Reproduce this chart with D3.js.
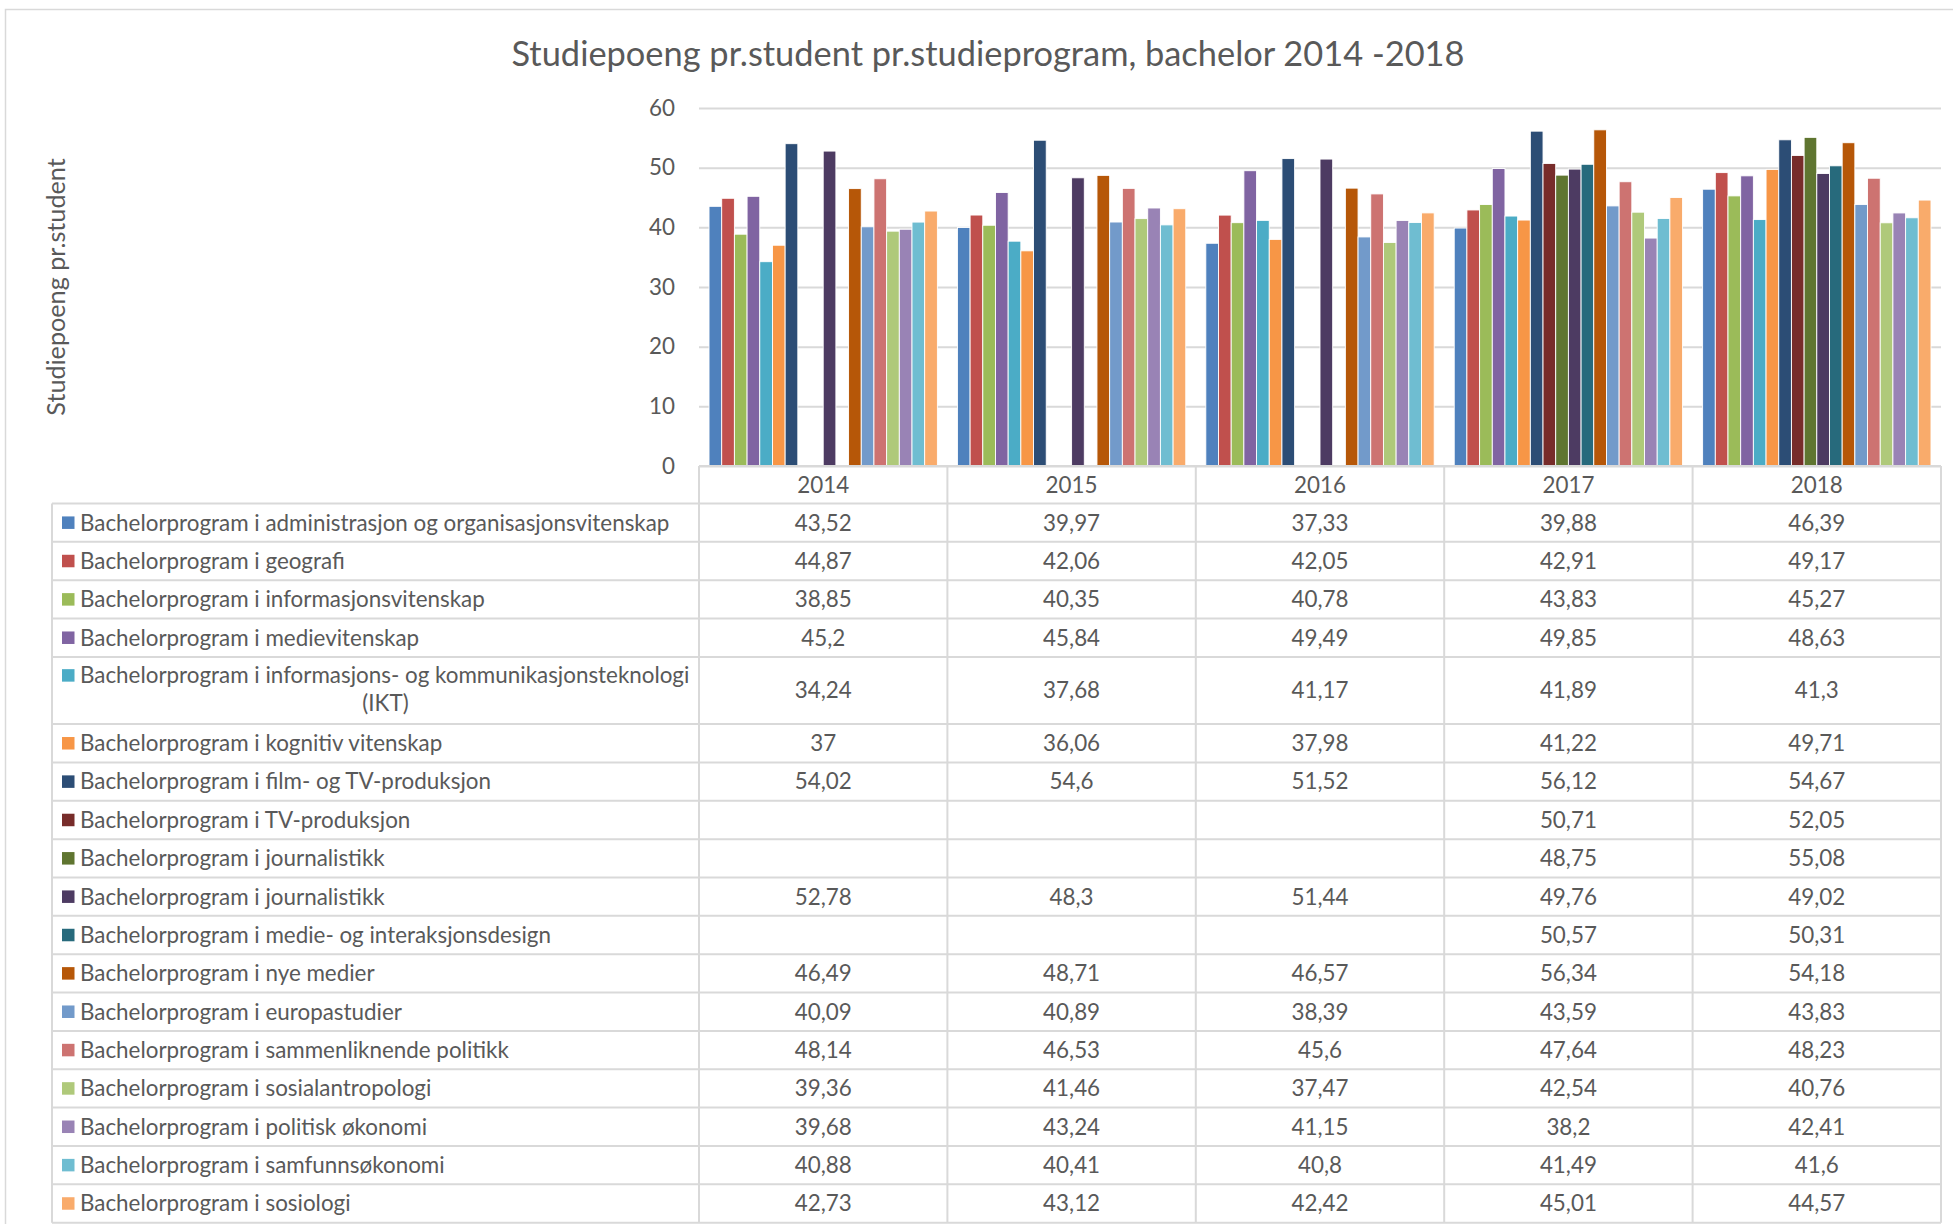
<!DOCTYPE html>
<html><head><meta charset="utf-8">
<script src="https://cdn.jsdelivr.net/npm/d3@7"></script>
<style>
html,body{margin:0;padding:0;background:#fff;overflow:hidden;}
text{font-family:Lato,"Open Sans",sans-serif;fill:#595959;}
</style></head>
<body><svg id="chart" width="1953" height="1224"></svg>
<script>
const years = ["2014","2015","2016","2017","2018"];
const seriesNames = [
 "Bachelorprogram i administrasjon og organisasjonsvitenskap",
 "Bachelorprogram i geografi",
 "Bachelorprogram i informasjonsvitenskap",
 "Bachelorprogram i medievitenskap",
 "Bachelorprogram i informasjons- og kommunikasjonsteknologi (IKT)",
 "Bachelorprogram i kognitiv vitenskap",
 "Bachelorprogram i film- og TV-produksjon",
 "Bachelorprogram i TV-produksjon",
 "Bachelorprogram i journalistikk",
 "Bachelorprogram i journalistikk",
 "Bachelorprogram i medie- og interaksjonsdesign",
 "Bachelorprogram i nye medier",
 "Bachelorprogram i europastudier",
 "Bachelorprogram i sammenliknende politikk",
 "Bachelorprogram i sosialantropologi",
 "Bachelorprogram i politisk økonomi",
 "Bachelorprogram i samfunnsøkonomi",
 "Bachelorprogram i sosiologi"
];
const seriesValues = [
 [43.52, 39.97, 37.33, 39.88, 46.39],
 [44.87, 42.06, 42.05, 42.91, 49.17],
 [38.85, 40.35, 40.78, 43.83, 45.27],
 [45.2, 45.84, 49.49, 49.85, 48.63],
 [34.24, 37.68, 41.17, 41.89, 41.3],
 [37, 36.06, 37.98, 41.22, 49.71],
 [54.02, 54.6, 51.52, 56.12, 54.67],
 [null, null, null, 50.71, 52.05],
 [null, null, null, 48.75, 55.08],
 [52.78, 48.3, 51.44, 49.76, 49.02],
 [null, null, null, 50.57, 50.31],
 [46.49, 48.71, 46.57, 56.34, 54.18],
 [40.09, 40.89, 38.39, 43.59, 43.83],
 [48.14, 46.53, 45.6, 47.64, 48.23],
 [39.36, 41.46, 37.47, 42.54, 40.76],
 [39.68, 43.24, 41.15, 38.2, 42.41],
 [40.88, 40.41, 40.8, 41.49, 41.6],
 [42.73, 43.12, 42.42, 45.01, 44.57]
];
const seriesColors = ["#4F81BD","#C0504D","#9BBB59","#8064A2","#4BACC6","#F79646",
 "#2C4D75","#772C2A","#5F7530","#4D3B62","#276A7C","#B65708",
 "#729ACA","#CD7371","#AFC97A","#9983B5","#6FBDD1","#F9AB6B"];
const yTicks = [0,10,20,30,40,50,60];
const chartTitle = "Studiepoeng pr.student pr.studieprogram, bachelor 2014 -2018";
const yTitle = "Studiepoeng pr.student";

const svg = d3.select("#chart");
const grid = "#d9d9d9";
const fs = "22.4px";

// outer chart border
svg.append("rect").attr("x",5.5).attr("y",9.5).attr("width",1960).attr("height",1240)
  .attr("fill","none").attr("stroke",grid).attr("stroke-width",1.5);

const plotL = 699, plotR = 1941, plotT = 108, plotB = 466;
const x0 = d3.scaleBand().domain(years).range([plotL, plotR]);
const x1 = d3.scaleBand().domain(d3.range(seriesNames.length)).range([0, x0.bandwidth()]).paddingOuter(0.79);
const y = d3.scaleLinear().domain([0,60]).range([plotB, plotT]);

// title
svg.append("text").attr("x", 988).attr("y", 66).attr("text-anchor","middle")
  .style("font-size","34.4px").text(chartTitle);

// y title
svg.append("text").attr("transform","translate(65,287) rotate(-90)")
  .attr("text-anchor","middle").style("font-size","25.2px").text(yTitle);

// gridlines + y axis
const yAxis = d3.axisLeft(y).tickValues(yTicks).tickSize(-(plotR-plotL)).tickPadding(24);
const ga = svg.append("g").attr("transform",`translate(${plotL},0)`).call(yAxis);
ga.select(".domain").remove();
ga.selectAll(".tick line").attr("stroke",grid).attr("stroke-width",2);
ga.selectAll(".tick text").style("font-size",fs).style("fill","#595959")
  .style("font-family","Lato, sans-serif");

// bars
const flat = [];
seriesValues.forEach((vals, si) => vals.forEach((v, yi) => { if (v !== null) flat.push({si, yi, v}); }));
svg.append("g").selectAll("rect").data(flat).join("rect")
  .attr("x", d => x0(years[d.yi]) + x1(d.si))
  .attr("y", d => y(d.v))
  .attr("width", x1.bandwidth())
  .attr("height", d => y(0) - y(d.v))
  .attr("fill", d => seriesColors[d.si])
  .attr("stroke","#fff").attr("stroke-width",0.9);

// data table
const tableL = 52, headerT = plotB, headerB = 503.5;
const rowH = 38.35, ikIdx = 4, ikH = 67.2;
const rowTops = [];
let cy = headerB;
seriesNames.forEach((n,i) => { rowTops.push(cy); cy += (i === ikIdx ? ikH : rowH); });
const tableB = cy;

const tg = svg.append("g");
tg.append("line").attr("x1",plotL).attr("x2",plotR).attr("y1",headerT).attr("y2",headerT)
  .attr("stroke",grid).attr("stroke-width",2);
rowTops.concat([tableB]).forEach(t => {
  tg.append("line").attr("x1",tableL).attr("x2",plotR).attr("y1",t).attr("y2",t)
    .attr("stroke",grid).attr("stroke-width",2);
});
tg.append("line").attr("x1",tableL).attr("x2",tableL).attr("y1",headerB).attr("y2",tableB)
  .attr("stroke",grid).attr("stroke-width",2);
years.forEach(yr => {
  tg.append("line").attr("x1",x0(yr)).attr("x2",x0(yr)).attr("y1",headerT).attr("y2",tableB)
    .attr("stroke",grid).attr("stroke-width",2);
});
tg.append("line").attr("x1",plotR).attr("x2",plotR).attr("y1",headerT).attr("y2",tableB)
  .attr("stroke",grid).attr("stroke-width",2);

years.forEach(yr => {
  tg.append("text").attr("x", x0(yr)+x0.bandwidth()/2).attr("y",(headerT+headerB)/2)
    .attr("dy","0.35em").attr("text-anchor","middle").style("font-size",fs).text(yr);
});

const fmt = v => v === null ? "" : String(v).replace(".", ",");
seriesNames.forEach((name, i) => {
  const top = rowTops[i], h = (i === ikIdx ? ikH : rowH), mid = top + h/2;
  if (i === ikIdx) {
    const line1 = "Bachelorprogram i informasjons- og kommunikasjonsteknologi";
    const l1y = top + 18.5, l2y = top + 46;
    tg.append("rect").attr("x",62).attr("y",l1y-6.25).attr("width",12.5).attr("height",12.5).attr("fill",seriesColors[i]);
    tg.append("text").attr("x",80).attr("y",l1y).attr("dy","0.35em").style("font-size",fs).text(line1);
    tg.append("text").attr("x",(tableL+plotL)/2+10).attr("y",l2y).attr("dy","0.35em")
      .attr("text-anchor","middle").style("font-size",fs).text("(IKT)");
  } else {
    tg.append("rect").attr("x",62).attr("y",mid-6.25).attr("width",12.5).attr("height",12.5).attr("fill",seriesColors[i]);
    tg.append("text").attr("x",80).attr("y",mid).attr("dy","0.35em").style("font-size",fs).text(name);
  }
  years.forEach((yr, yi) => {
    const v = seriesValues[i][yi];
    if (v === null) return;
    tg.append("text").attr("x", x0(yr)+x0.bandwidth()/2).attr("y", mid).attr("dy","0.35em")
      .attr("text-anchor","middle").style("font-size",fs).text(fmt(v));
  });
});
</script></body></html>
